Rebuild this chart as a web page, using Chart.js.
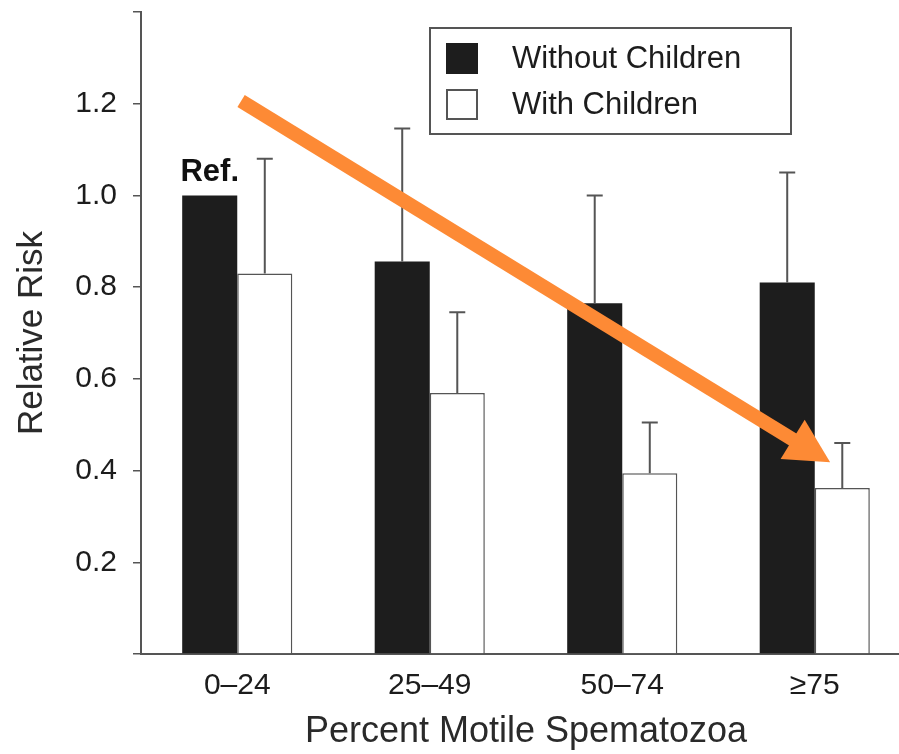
<!DOCTYPE html>
<html>
<head>
<meta charset="utf-8">
<script src="https://cdn.jsdelivr.net/npm/chart.js@4.4.0/dist/chart.umd.min.js"></script>
<style>
  html, body { margin: 0; padding: 0; background: #fff; overflow: hidden; }
  #wrap { position: relative; width: 915px; height: 754px; }
</style>
</head>
<body>
<div id="wrap"><canvas id="chart"></canvas></div>
<script>
const categories = ['0–24', '25–49', '50–74', '≥75'];
const withoutChildren = [1.0, 0.856, 0.765, 0.81];
const withoutChildrenUpper = [null, 1.146, 1.0, 1.05];
const withChildren = [0.83, 0.569, 0.394, 0.362];
const withChildrenUpper = [1.08, 0.745, 0.505, 0.46];
const yTicks = [0.2, 0.4, 0.6, 0.8, 1.0, 1.2];
const refLabel = 'Ref.';
// orange arrow, given as [category index, relative risk]
const arrowFrom = [0.02, 1.206];
const arrowTo = [3.08, 0.418];

const FONT = '"Liberation Sans", Arial, Helvetica, sans-serif';
const AXIS = '#555';

const errorBars = {
  id: 'errorBars',
  afterDatasetsDraw(chart) {
    const ctx = chart.ctx, y = chart.scales.y;
    ctx.save();
    ctx.strokeStyle = AXIS;
    ctx.lineWidth = 2;
    chart.data.datasets.forEach((ds, i) => {
      chart.getDatasetMeta(i).data.forEach((bar, j) => {
        const up = ds.upper[j];
        if (up == null) return;
        const top = y.getPixelForValue(up);
        ctx.beginPath();
        ctx.moveTo(bar.x, bar.y);
        ctx.lineTo(bar.x, top);
        ctx.moveTo(bar.x - 8, top);
        ctx.lineTo(bar.x + 8, top);
        ctx.stroke();
      });
    });
    // "Ref." over the first black bar
    const ref = chart.getDatasetMeta(0).data[0];
    ctx.fillStyle = '#111';
    ctx.font = 'bold 31px ' + FONT;
    ctx.textAlign = 'center';
    ctx.textBaseline = 'alphabetic';
    ctx.fillText(refLabel, ref.x, ref.y - 14);
    ctx.restore();
  }
};

const boxLegend = {
  id: 'boxLegend',
  afterDraw(chart) {
    const ctx = chart.ctx;
    ctx.save();
    ctx.strokeStyle = AXIS;
    ctx.lineWidth = 2;
    ctx.strokeRect(430, 28, 361, 106);
    ctx.font = '31px ' + FONT;
    ctx.textBaseline = 'middle';
    chart.data.datasets.forEach((ds, i) => {
      const cy = 58 + i * 46;
      ctx.fillStyle = ds.backgroundColor;
      ctx.fillRect(447, cy - 14, 30, 29);
      ctx.strokeStyle = ds.borderColor;
      ctx.strokeRect(447, cy - 14, 30, 29);
      ctx.fillStyle = '#1c1c1c';
      ctx.fillText(ds.label, 512, cy + 1);
    });

    // arrow
    const x = chart.scales.x, y = chart.scales.y;
    const x1 = x.getPixelForValue(arrowFrom[0]), y1 = y.getPixelForValue(arrowFrom[1]);
    const x2 = x.getPixelForValue(arrowTo[0]), y2 = y.getPixelForValue(arrowTo[1]);
    const len = Math.hypot(x2 - x1, y2 - y1);
    const ux = (x2 - x1) / len, uy = (y2 - y1) / len;
    const headL = 44, headW = 23;
    ctx.strokeStyle = '#fd8a35';
    ctx.fillStyle = '#fd8a35';
    ctx.lineWidth = 14;
    ctx.lineCap = 'butt';
    ctx.beginPath();
    ctx.moveTo(x1, y1);
    ctx.lineTo(x2 - ux * headL * 0.8, y2 - uy * headL * 0.8);
    ctx.stroke();
    const bx = x2 - ux * headL, by = y2 - uy * headL;
    ctx.beginPath();
    ctx.moveTo(x2, y2);
    ctx.lineTo(bx - uy * headW, by + ux * headW);
    ctx.lineTo(bx + uy * headW, by - ux * headW);
    ctx.closePath();
    ctx.fill();
    ctx.restore();
  }
};

new Chart(document.getElementById('chart'), {
  type: 'bar',
  data: {
    labels: categories,
    datasets: [
      {
        label: 'Without Children',
        data: withoutChildren,
        upper: withoutChildrenUpper,
        backgroundColor: '#1d1d1d',
        borderColor: '#1d1d1d',
        borderWidth: 0
      },
      {
        label: 'With Children',
        data: withChildren,
        upper: withChildrenUpper,
        backgroundColor: '#ffffff',
        borderColor: AXIS,
        borderWidth: 1.5
      }
    ]
  },
  options: {
    responsive: true,
    maintainAspectRatio: false,
    animation: false,
    layout: { padding: { top: 12, right: 4, left: 0, bottom: 0 } },
    categoryPercentage: 0.572,
    barPercentage: 1.0,
    plugins: { legend: { display: false }, tooltip: { enabled: false } },
    scales: {
      x: {
        offset: true,
        grid: { drawOnChartArea: false, drawTicks: false },
        border: { color: AXIS, width: 2 },
        ticks: { color: '#1c1c1c', font: { family: FONT, size: 30 }, padding: 14 },
        title: {
          display: true, text: 'Percent Motile Spematozoa', color: '#2a2a2a',
          font: { family: FONT, size: 36 }, padding: { top: 0, bottom: 0 }
        },
        afterFit(s) { s.height = 100; }
      },
      y: {
        min: 0,
        max: 1.4,
        grid: { drawOnChartArea: false, drawTicks: true, tickLength: 8, color: AXIS, lineWidth: 1.5 },
        border: { color: AXIS, width: 2 },
        ticks: {
          stepSize: 0.2,
          color: '#1c1c1c',
          font: { family: FONT, size: 30 },
          padding: 16,
          callback: v => yTicks.some(t => Math.abs(t - v) < 1e-6) ? v.toFixed(1) : ''
        },
        title: {
          display: true, text: 'Relative Risk', color: '#2a2a2a',
          font: { family: FONT, size: 35 }, padding: { top: 11, bottom: 0 }
        },
        afterFit(s) { s.width = 141; s.paddingTop = 0; s.paddingBottom = 0; }
      }
    }
  },
  plugins: [errorBars, boxLegend]
});
</script>
</body>
</html>
